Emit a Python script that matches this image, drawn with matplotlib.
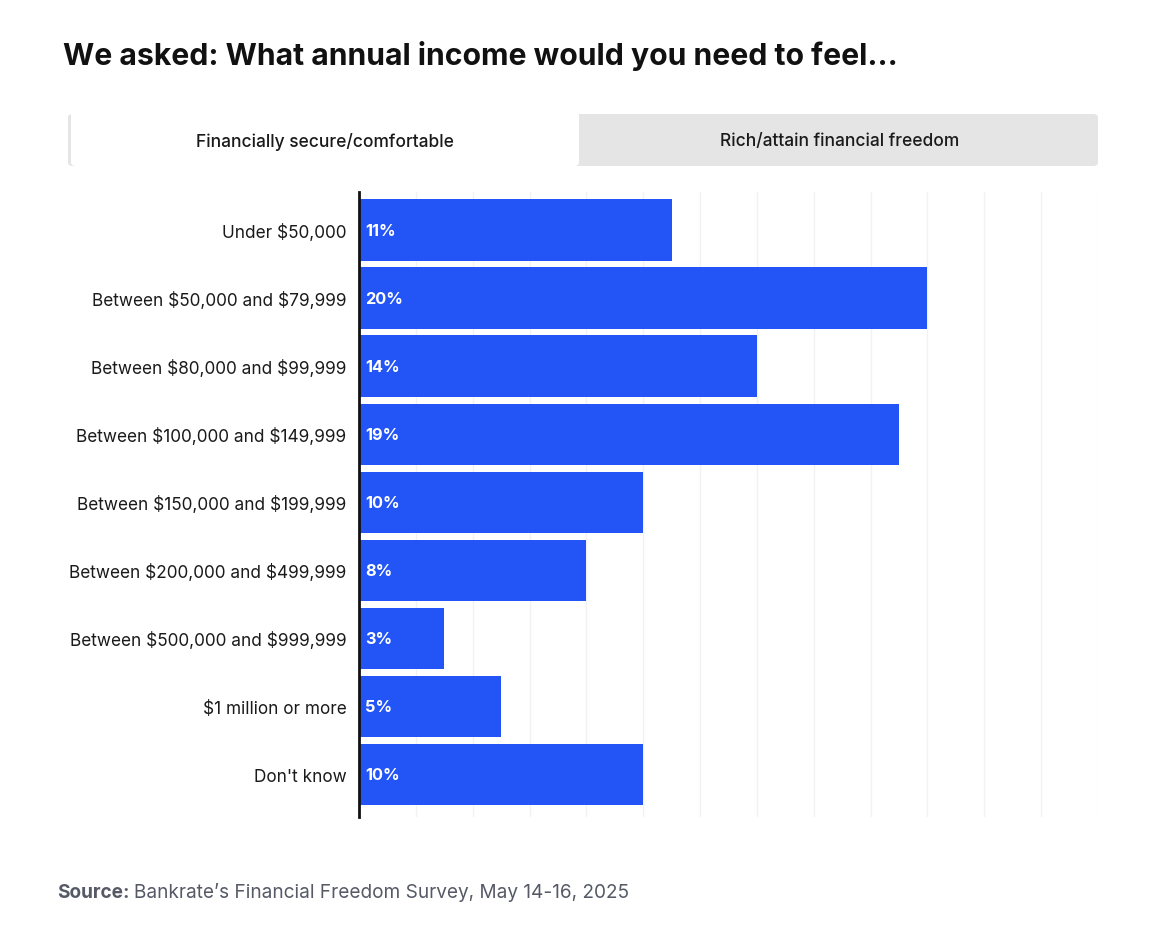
import matplotlib
matplotlib.use("Agg")
import matplotlib.pyplot as plt
from matplotlib.patches import FancyBboxPatch, Rectangle

plt.rcParams['font.family'] = ['Inter', 'DejaVu Sans']
plt.rcParams['text.parse_math'] = False

categories = ["Under $50,000", "Between $50,000 and $79,999", "Between $80,000 and $99,999",
              "Between $100,000 and $149,999", "Between $150,000 and $199,999",
              "Between $200,000 and $499,999", "Between $500,000 and $999,999",
              "$1 million or more", "Don't know"]
values = [11, 20, 14, 19, 10, 8, 3, 5, 10]
title = "We asked: What annual income would you need to feel..."
tabs = ["Financially secure/comfortable", "Rich/attain financial freedom"]

W, H = 1176, 937
fig = plt.figure(figsize=(W / 100, H / 100), dpi=100)

def fx(px):
    return px / W

def fy(py):
    return 1 - py / H

fig.text(fx(63), fy(56), title, fontsize=21.7, fontweight='bold', color='#111111', va='center', ha='left')

# tabs
fig.patches.append(FancyBboxPatch((fx(68), fy(167)), fx(1098) - fx(68), fy(115) - fy(167),
                                  boxstyle="round,pad=0,rounding_size=0.004", transform=fig.transFigure,
                                  facecolor='#e5e5e5', edgecolor='none', zorder=0))
fig.patches.append(FancyBboxPatch((fx(71), fy(167)), fx(579) - fx(71), fy(119) - fy(167) + 0.01,
                                  boxstyle="round,pad=0,rounding_size=0.004", transform=fig.transFigure,
                                  facecolor='white', edgecolor='none', zorder=1))
fig.patches.append(Rectangle((fx(60), fy(180)), fx(1110) - fx(60), fy(167) - fy(180),
                             transform=fig.transFigure, facecolor='white', edgecolor='none', zorder=2))
fig.text(fx(325), fy(142), tabs[0], fontsize=12.5, fontweight='medium', color='#1a1a1a',
         ha='center', va='center', zorder=3)
fig.text(fx(840), fy(142), tabs[1], fontsize=12.5, fontweight='medium', color='#1a1a1a',
         ha='center', va='center', zorder=3)

ax = fig.add_axes([fx(359), fy(818), fx(1098) - fx(359), fy(193) - fy(818)])
ypos = list(range(len(categories)))
ax.barh(ypos, values, height=0.9, color='#2354f6', zorder=2)
ax.set_xlim(0, 26)
ax.set_ylim(8.63, -0.56)
ax.set_xticks(range(0, 27, 2))
ax.xaxis.grid(True, color='#f2f2f2', linewidth=1, zorder=0)
ax.tick_params(axis='x', length=0, labelbottom=False)
ax.tick_params(axis='y', length=0, pad=9)
ax.set_yticks(ypos)
ax.set_yticklabels(categories, fontsize=12.4, color='#1a1a1a')
for s in ['top', 'right', 'bottom']:
    ax.spines[s].set_visible(False)
ax.spines['left'].set_linewidth(2)
ax.spines['left'].set_color('#111111')
ax.spines['left'].set_zorder(3)
for y, v in zip(ypos, values):
    ax.text(0.22, y, f"{v}%", color='white', fontsize=11.8, fontweight='bold', va='center', ha='left', zorder=4)

src_b = fig.text(fx(57), fy(893), "Source:", fontsize=13.7, fontweight='bold', color='#555a66',
                 va='center', ha='left')
fig.canvas.draw()
bb = src_b.get_window_extent(renderer=fig.canvas.get_renderer())
fig.text(bb.x1 / W + fx(5), fy(893), "Bankrate\u2019s Financial Freedom Survey, May 14-16, 2025", fontsize=13.7,
         color='#555a66', va='center', ha='left')

fig.savefig("out.png", dpi=100, facecolor='white')
